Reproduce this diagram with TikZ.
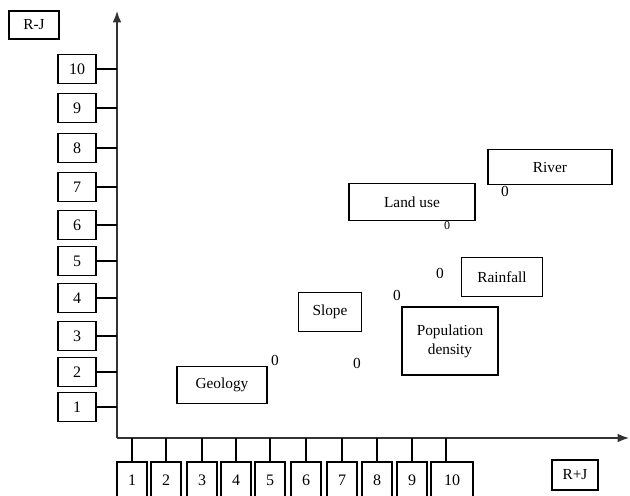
\documentclass[tikz,border=0pt]{standalone}
\usepackage{fontspec}
\setmainfont{Liberation Serif}
\usetikzlibrary{arrows.meta}
\begin{document}
\begin{tikzpicture}[x=0.75pt,y=-0.75pt,line width=0.9pt,>={Latex[length=3mm,width=2.3mm]},
  caja/.style={draw,line width=1pt,inner sep=1pt,align=center,font=\fontsize{11.5}{14}\selectfont},
  num/.style={draw,line width=0.9pt,inner sep=0pt,font=\fontsize{12}{14}\selectfont},
  marca/.style={inner sep=0pt,font=\fontsize{11.5}{13}\selectfont}]
  \useasboundingbox (0,0) rectangle (630,495);
  \clip (0,0) rectangle (630,495);
  % ejes
  \coordinate (origen) at (117,438);
  \coordinate (topeY) at (117,11);
  \coordinate (topeX) at (629,438);
  \draw[->,black!80,line width=1.1pt] (origen)--(topeY);
  \draw[->,black!80,line width=1.1pt] (origen)--(topeX);
  % etiquetas de los ejes
  \node[caja,minimum width=37.5pt,minimum height=21pt] (rmenosj) at (34,25){R-J};
  \node[caja,minimum width=34.5pt,minimum height=22.5pt] (rmasj) at (575,475){R+J};
  % escala vertical (R-J)
  \foreach \i/\y in {1/407,2/372,3/336,4/298,5/261,6/225,7/187,8/148,9/108,10/69}{
    \node[num,minimum width=28.5pt,minimum height=21.75pt] (yl\i) at (77,\y){\i};
    \draw (yl\i.east)--(yl\i.east -| origen);
  }
  % escala horizontal (R+J)
  \foreach \i/\x in {1/132,2/166,3/202,4/236,5/270,6/306,7/342,8/377,9/412}{
    \node[num,minimum width=22.5pt,minimum height=27pt] (xl\i) at (\x,480){\i};
    \draw (xl\i.north)--(xl\i.north |- origen);
  }
  \node[num,minimum width=31.5pt,minimum height=27pt] (xl10) at (452,480){10};
  \draw (446,462)--(446,438);
  % factores
  \node[caja,minimum width=67.5pt,minimum height=27.75pt] (geologia) at (222,385){Geology};
  \node[caja,minimum width=47.25pt,minimum height=29.25pt] (pendiente) at (330,312){Slope};
  \node[caja,minimum width=94.5pt,minimum height=27.75pt] (usosuelo) at (412,202){Land use};
  \node[caja,minimum width=93pt,minimum height=26.25pt] (rio) at (550,167){River};
  \node[caja,minimum width=60.75pt,minimum height=29.25pt] (lluvia) at (502,277){Rainfall};
  \node[caja,minimum width=72pt,minimum height=51pt] (poblacion) at (450,341){Population\\density};
  % puntos
  \node[marca] (p1) at (275,360){0};
  \node[marca] (p2) at (357,363){0};
  \node[marca] (p3) at (397,295){0};
  \node[marca] (p4) at (440,273){0};
  \node[marca,font=\fontsize{9}{11}\selectfont] (p5) at (447,226){0};
  \node[marca] (p6) at (505,191){0};
\end{tikzpicture}
\end{document}
